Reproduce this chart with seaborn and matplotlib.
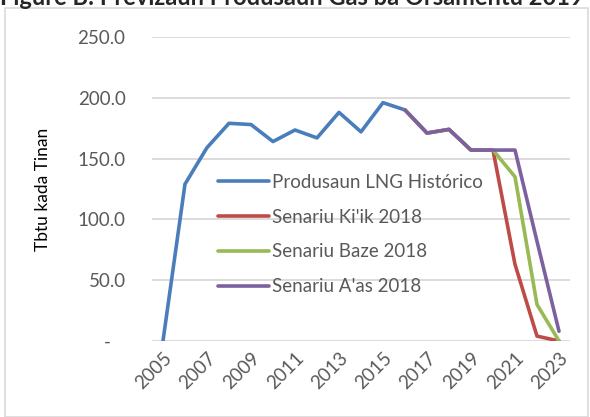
import pandas as pd
import seaborn as sns
import matplotlib.pyplot as plt
from matplotlib.patches import Rectangle
from matplotlib.ticker import FuncFormatter

# data
years = list(range(2005, 2024))
historico = [0, 129, 159, 179, 178, 164, 173.5, 167, 188, 172, 196, 190]
kiik = [190, 171, 174, 157, 157, 63, 4, 0]
baze = [190, 171, 174, 157, 157, 135, 30, 0]
aas = [190, 171, 174, 157, 157, 157, 82, 8]

names = ["Produsaun LNG Histórico", "Senariu Ki'ik 2018", "Senariu Baze 2018", "Senariu A'as 2018"]
colors = ["#4A7EBB", "#BE4B48", "#98B954", "#7D60A0"]

rows = []
for name, vals, start in zip(names, [historico, kiik, baze, aas], [0, 11, 11, 11]):
    for i, v in enumerate(vals):
        rows.append({"idx": start + i, "val": v, "serie": name})
data = pd.DataFrame(rows)

sns.set_style("white")
plt.rcParams["font.family"] = ["Lato", "DejaVu Sans"]

fig = plt.figure(figsize=(5.9, 4.17), dpi=100)
ax = fig.add_axes([0.2576, 0.1823, 0.7085, 0.729])

fig.patches.append(Rectangle((5 / 590, 0), 583 / 590, 1 - 8 / 417, transform=fig.transFigure,
                             fill=False, edgecolor="#D9D9D9", linewidth=1.2))
fig.text(0.0, 1.0 - 5 / 417, "Figure B: Previzaun Produsaun Gas ba Orsamentu 2019",
         fontsize=17, fontweight="bold", va="baseline", ha="left")

sns.lineplot(data=data, x="idx", y="val", hue="serie", hue_order=names, palette=colors,
             linewidth=2.6, ax=ax, sort=False)

ax.set_xlim(-0.5, 18.5)
ax.set_ylim(0, 250)
ax.set_yticks([0, 50, 100, 150, 200, 250])
ax.yaxis.set_major_formatter(FuncFormatter(lambda v, p: "-   " if v == 0 else f"{v:.1f}"))
ax.set_xticks(range(0, 19, 2))
ax.set_xticklabels([str(y) for y in years[::2]], rotation=45, ha="right", rotation_mode="anchor")
ax.grid(axis="y", color="#D9D9D9", linewidth=1.3)
ax.set_axisbelow(True)
for s in ax.spines.values():
    s.set_visible(False)
ax.tick_params(axis="both", length=0, labelsize=13.5, labelcolor="#595959")
ax.tick_params(axis="y", pad=19)
ax.tick_params(axis="x", pad=6)
ax.set_xlabel("")
ax.set_ylabel("Tbtu kada Tinan", fontsize=12.5, color="black")
ax.yaxis.set_label_coords(-0.242, 0.5)

leg = ax.legend(loc="center left", bbox_to_anchor=(0.14, 0.35), frameon=False, fontsize=13.5,
                handlelength=2.7, handletextpad=0.2, labelspacing=0.95, borderaxespad=0)
for t in leg.get_texts():
    t.set_color("#595959")

fig.savefig("out.png", dpi=100)
